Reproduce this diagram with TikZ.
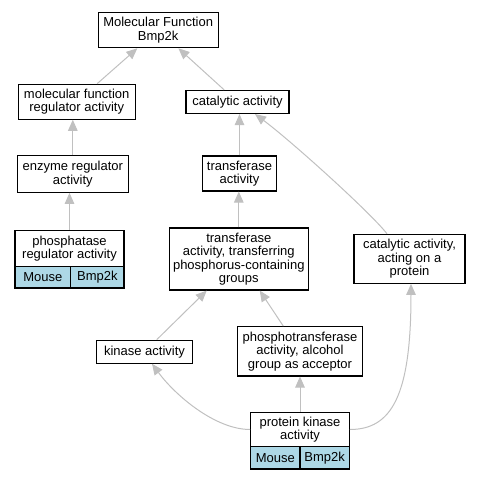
\documentclass[tikz,border=0pt]{standalone}
\usepackage{fontspec}
\setmainfont{Liberation Sans}
\usetikzlibrary{arrows.meta,calc}
\definecolor{cellblue}{HTML}{ADD8E6}
\definecolor{edgegray}{HTML}{C0C0C0}
\tikzset{
  box/.style={draw=black, line width=1.1pt, fill=white, align=center, inner sep=0pt,
    font=\fontsize{13}{13.5}\selectfont},
  cell/.style={box, fill=cellblue},
  edge/.style={draw=edgegray, line width=1pt, -{Triangle[length=11pt,width=9.5pt]}},
}
\begin{document}
\begin{tikzpicture}[x=1pt,y=-1pt]
\useasboundingbox (0,0) rectangle (477,480);
% nodes
\node[box, minimum width=119.7pt, minimum height=35.7pt] (mf) at (158.2,29.9) {Molecular Function\\Bmp2k};
\node[box, minimum width=117pt, minimum height=35pt] (mfr) at (76.7,101.7) {molecular function\\regulator activity};
\node[box, minimum width=103pt, minimum height=23pt] (cat) at (237.5,102) {catalytic activity};
\node[box, minimum width=111pt, minimum height=36.5pt] (enz) at (72.8,174) {enzyme regulator\\activity};
\node[box, minimum width=74pt, minimum height=35pt] (trf) at (239.5,173.5) {transferase\\activity};
\node[box, minimum width=109pt, minimum height=36.2pt] (pha) at (69.5,248.6) {phosphatase\\regulator activity};
\node[cell, minimum width=55.7pt, minimum height=21.3pt] (phaM) at (42.85,277.35) {Mouse};
\node[cell, minimum width=53.3pt, minimum height=21.3pt] (phaB) at (97.35,277.35) {Bmp2k};
\node[box, minimum width=139pt, minimum height=62pt] (trx) at (238.8,259) {transferase\\activity, transferring\\phosphorus-containing\\groups};
\node[box, minimum width=111pt, minimum height=49pt] (cap) at (409.5,258.8) {catalytic activity,\\acting on a\\protein};
\node[box, minimum width=95.6pt, minimum height=23pt] (kin) at (144.5,351.7) {kinase activity};
\node[box, minimum width=124.6pt, minimum height=49.3pt] (pho) at (300,351.3) {phosphotransferase\\activity, alcohol\\group as acceptor};
\node[box, minimum width=98.6pt, minimum height=34.4pt] (pk) at (300,429.5) {protein kinase\\activity};
\node[cell, minimum width=49.3pt, minimum height=22.3pt] (pkM) at (275.35,457.85) {Mouse};
\node[cell, minimum width=49.3pt, minimum height=22.3pt] (pkB) at (324.65,457.85) {Bmp2k};
% edges
\draw[edge] (mfr) -- (mf);
\draw[edge] (cat) -- (mf);
\draw[edge] (enz.north) -- (enz.north |- mfr.south);
\draw[edge] (pha.north) -- (pha.north |- enz.south);
\draw[edge] (trf.north) -- (trf.north |- cat.south);
\draw[edge] (trx.north) -- (trx.north |- trf.south);
\coordinate (capS) at ($(cap.north)+(-22.5,0)$);
\coordinate (catE) at ($(cat.south)+(17.5,0)$);
\draw[edge] (capS) .. controls (370,212) and (290,140) .. (catE);
\draw[edge] (kin) -- (trx);
\draw[edge] (pho) -- (trx);
\draw[edge] (pk.north -| pho.south) -- (pho.south);
\coordinate (pkW) at (pk.west);
\coordinate (pkE) at (pk.east);
\coordinate (kinT) at ($(kin.south)+(7.5,0)$);
\coordinate (capT) at ($(cap.south)+(1.5,0)$);
\draw[edge] (pkW) .. controls (215,429.5) and (175,395) .. (kinT);
\draw[edge] (pkE) .. controls (392,429.5) and (411,395) .. (capT);
\end{tikzpicture}
\end{document}
